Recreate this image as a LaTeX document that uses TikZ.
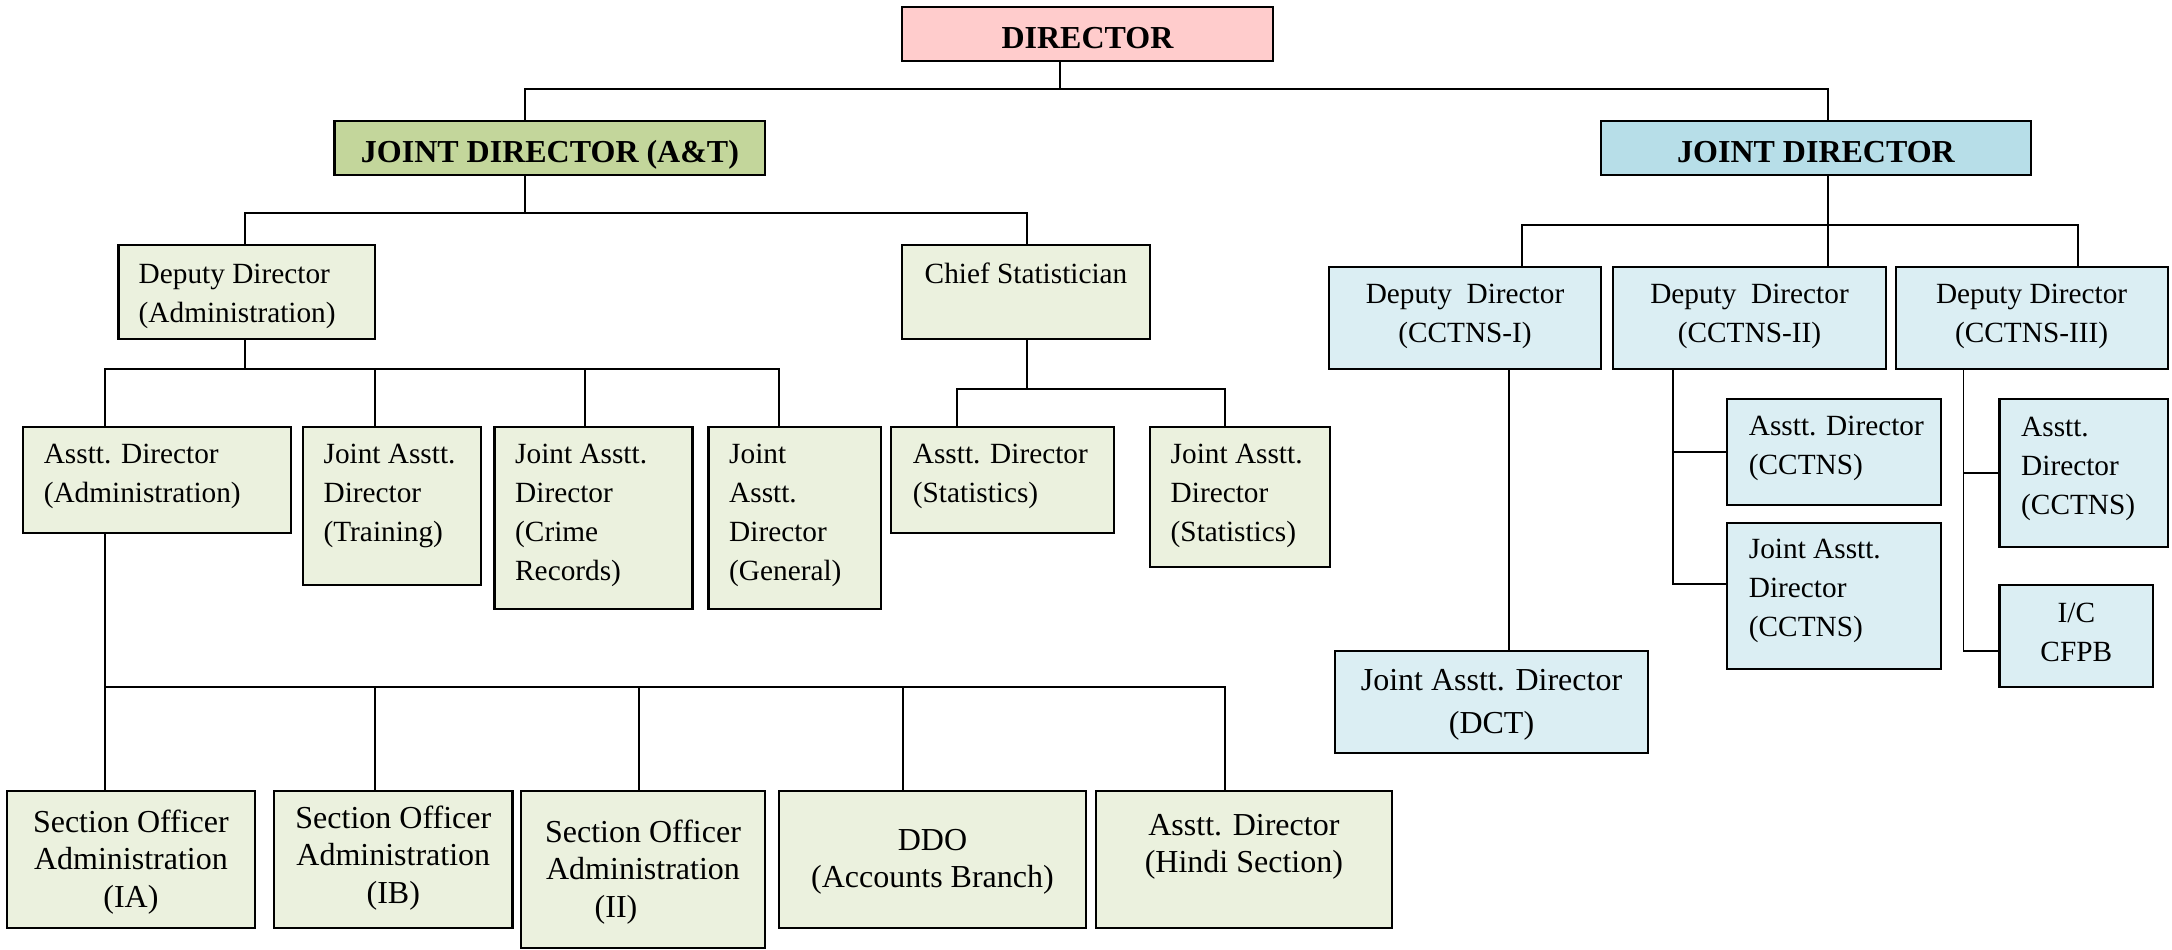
\documentclass[tikz,border=0pt]{standalone}
\usepackage{fontspec}
\setmainfont{Liberation Serif}
\definecolor{cpink}{HTML}{FFCCCC}
\definecolor{cgreen}{HTML}{C3D69B}
\definecolor{cblue}{HTML}{B7DEE8}
\definecolor{lgreen}{HTML}{EBF1DE}
\definecolor{lblue}{HTML}{DBEEF3}
\tikzset{
  box/.style={rectangle, draw=black, line width=2.2pt, inner sep=0pt, outer sep=0pt},
  gbox/.style={box, fill=lgreen},
  bbox/.style={box, fill=lblue},
  conn/.style={draw=black, line width=1.8pt, line join=miter},
  ftitle/.style={font=\fontsize{32}{38}\selectfont\bfseries, inner sep=0pt},
  fmid/.style={font=\fontsize{29.3}{39}\selectfont, inner sep=0pt},
  fbig/.style={font=\fontsize{32}{37.5}\selectfont, inner sep=0pt},
  fdct/.style={font=\fontsize{32}{43}\selectfont, inner sep=0pt},
}
\newcommand\obox[6]{\node[#6,anchor=north west,minimum width={#4-#2},minimum height={#5-#3}] (#1) at (#2,#3) {};}
\newcommand\ltx[4]{\node[#4,anchor=base west] (#1) at (#2) {\begin{tabular}[t]{@{}l@{}}#3\end{tabular}};}
\newcommand\ctx[4]{\node[#4,anchor=base] (#1) at (#2) {\begin{tabular}[t]{@{}c@{}}#3\end{tabular}};}
\begin{document}
\begin{tikzpicture}[x=1pt,y=-1pt]
\useasboundingbox (0,0) rectangle (2172,950);
\fill[white] (0,0) rectangle (2172,950);
% ---- boxes ----
\obox{dir}{902}{7}{1273}{61}{box,fill=cpink}
\obox{jdat}{334.5}{120.7}{765}{175}{box,fill=cgreen}
\obox{jd}{1601}{120.7}{2031}{175}{box,fill=cblue}
\obox{ddadm}{118.4}{245}{374.7}{339.3}{gbox}
\obox{chief}{902}{245}{1150}{339.3}{gbox}
\obox{adadm}{22.9}{426.7}{290.9}{532.7}{gbox}
\obox{jadtr}{302.6}{426.7}{480.6}{585}{gbox}
\obox{jadcr}{494.5}{426.7}{692.5}{609.3}{gbox}
\obox{jadgen}{708.4}{426.7}{881}{609.3}{gbox}
\obox{adstat}{890.6}{426.7}{1113.7}{532.7}{gbox}
\obox{jadstat}{1149.7}{426.7}{1329.8}{567}{gbox}
\obox{soia}{7}{791}{254.8}{927.7}{gbox}
\obox{soib}{274}{791}{512.5}{927.7}{gbox}
\obox{soii}{520.8}{791}{765}{948}{gbox}
\obox{ddo}{779}{791}{1086}{927.7}{gbox}
\obox{hindi}{1095.7}{791}{1392}{927.7}{gbox}
\obox{ddc1}{1329}{266.7}{1601}{369}{bbox}
\obox{ddc2}{1613}{266.7}{1886}{369}{bbox}
\obox{ddc3}{1895.6}{266.7}{2167.7}{369}{bbox}
\obox{dct}{1335.3}{650.7}{1647.6}{753.3}{bbox}
\obox{adc2}{1727.3}{398.7}{1941.3}{505}{bbox}
\obox{jadc2}{1727.3}{523.3}{1941.3}{669}{bbox}
\obox{adc3}{1999.4}{398.7}{2167.7}{546.7}{bbox}
\obox{icfpb}{1999.4}{585}{2153.2}{687.3}{bbox}
% ---- texts ----
\ctx{t-dir}{1087.5,48.5}{DIRECTOR}{ftitle}
\ctx{t-jdat}{550,162}{JOINT DIRECTOR (A\&T)}{ftitle}
\ctx{t-jd}{1816,162}{JOINT DIRECTOR}{ftitle}
\ltx{t-ddadm}{138.5,283}{Deputy Director\\(Administration)}{fmid}
\ltx{t-chief}{924.5,283}{Chief Statistician}{fmid}
\ltx{t-adadm}{43.6,463}{Asstt. Director\\(Administration)}{fmid}
\ltx{t-jadtr}{323.4,463}{Joint Asstt.\\Director\\(Training)}{fmid}
\ltx{t-jadcr}{515,463}{Joint Asstt.\\Director\\(Crime\\Records)}{fmid}
\ltx{t-jadgen}{729,463}{Joint\\Asstt.\\Director\\(General)}{fmid}
\ltx{t-adstat}{912.7,463}{Asstt. Director\\(Statistics)}{fmid}
\ltx{t-jadstat}{1170.5,463}{Joint Asstt.\\Director\\(Statistics)}{fmid}
\ctx{t-soia}{130.9,832}{Section Officer\\Administration\\(IA)}{fbig}
\ctx{t-soib}{393.3,828}{Section Officer\\Administration\\(IB)}{fbig}
\ctx{t-soii}{643,842}{Section Officer\\Administration\\(II)\hspace*{54pt}}{fbig}
\ctx{t-ddo}{932.5,850}{DDO\\(Accounts Branch)}{fbig}
\ctx{t-hindi}{1243.9,835}{Asstt. Director\\(Hindi Section)}{fbig}
\ctx{t-ddc1}{1465,303.5}{Deputy\ \ Director\\(CCTNS-I)}{fmid}
\ctx{t-ddc2}{1749.5,303.5}{Deputy\ \ Director\\(CCTNS-II)}{fmid}
\ctx{t-ddc3}{2031.6,303.5}{Deputy Director\\(CCTNS-III)}{fmid}
\ctx{t-dct}{1491.5,690}{Joint Asstt. Director\\(DCT)}{fdct}
\ltx{t-adc2}{1748.7,435}{Asstt. Director\\(CCTNS)}{fmid}
\ltx{t-jadc2}{1748.7,558}{Joint Asstt.\\Director\\(CCTNS)}{fmid}
\ltx{t-adc3}{2021,436.7}{Asstt.\\Director\\(CCTNS)}{fmid}
\ctx{t-icfpb}{2076.3,622}{I/C\\CFPB}{fmid}
% ---- connectors ----
\draw[conn] (dir.south -| 1060,0) -- (1060,89);
\draw[conn] (jdat.north -| 525,0) -- (525,89) -- (1828,89) -- (jd.north -| 1828,0);
\draw[conn] (jdat.south -| 525,0) -- (525,212.7);
\draw[conn] (ddadm.north -| 245,0) -- (245,212.7) -- (1027,212.7) -- (chief.north -| 1027,0);
\draw[conn] (ddadm.south -| 245,0) -- (245,369);
\draw[conn] (adadm.north -| 104.6,0) -- (104.6,369) -- (779,369) -- (jadgen.north -| 779,0);
\draw[conn] (jadtr.north -| 374.7,0) -- (374.7,369);
\draw[conn] (jadcr.north -| 585,0) -- (585,369);
\draw[conn] (chief.south -| 1027,0) -- (1027,389);
\draw[conn] (adstat.north -| 957,0) -- (957,389) -- (1225,389) -- (jadstat.north -| 1225,0);
\draw[conn] (adadm.south -| 104.6,0) -- (soia.north -| 104.6,0);
\draw[conn] (104.6,687) -- (1225,687) -- (hindi.north -| 1225,0);
\draw[conn] (soib.north -| 374.7,0) -- (374.7,687);
\draw[conn] (soii.north -| 639,0) -- (639,687);
\draw[conn] (ddo.north -| 903,0) -- (903,687);
\draw[conn] (jd.south -| 1828,0) -- (1828,225.3);
\draw[conn] (ddc1.north -| 1521.6,0) -- (1521.6,225.3) -- (2077.7,225.3) -- (ddc3.north -| 2077.7,0);
\draw[conn] (ddc2.north -| 1828,0) -- (1828,225.3);
\draw[conn] (ddc1.south -| 1509,0) -- (dct.north -| 1509,0);
\draw[conn] (ddc2.south -| 1673,0) -- (1673,584.3) -- (jadc2.west |- 0,584.3);
\draw[conn] (adc2.west -| 1673,0) -- (adc2.west);
\draw[conn] (ddc3.south -| 1963.4,0) -- (1963.4,650.7) -- (icfpb.west |- 0,650.7);
\draw[conn] (adc3.west -| 1963.4,0) -- (adc3.west);
\end{tikzpicture}
\end{document}
